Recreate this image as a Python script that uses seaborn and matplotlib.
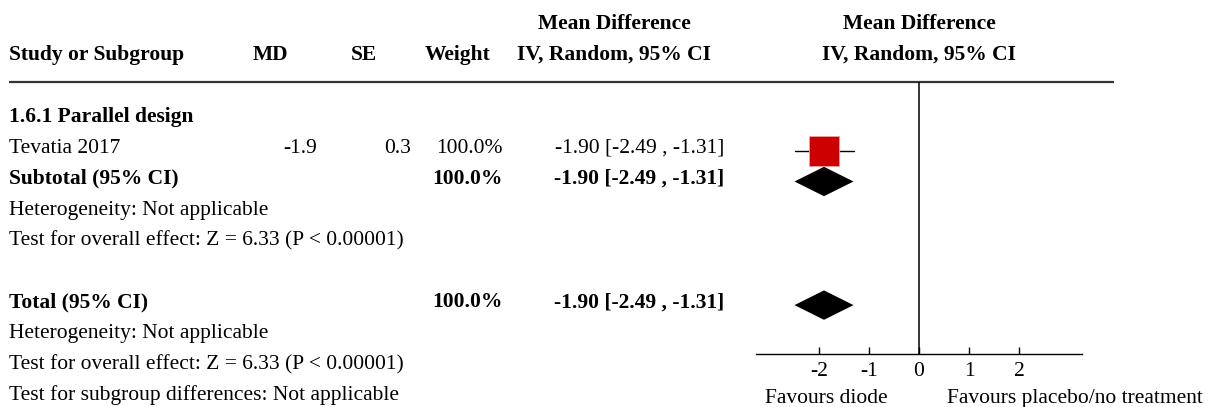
import matplotlib
matplotlib.use("Agg")
import matplotlib.pyplot as plt
import seaborn as sns
import pandas as pd

# ---- data ----
studies = ["Tevatia 2017"]
md = [-1.9]
se = [0.3]
weights = [100.0]
ci_low = [-2.49]
ci_high = [-1.31]

subtotal_md = -1.90
subtotal_low = -2.49
subtotal_high = -1.31
subtotal_weight = 100.0

total_md = -1.90
total_low = -2.49
total_high = -1.31
total_weight = 100.0

subgroup_title = "1.6.1 Parallel design"
heterogeneity_text = "Heterogeneity: Not applicable"
overall_text = "Test for overall effect: Z = 6.33 (P < 0.00001)"
subgroup_diff_text = "Test for subgroup differences: Not applicable"
x_ticks = [-2, -1, 0, 1, 2]
left_label = "Favours diode"
right_label = "Favours placebo/no treatment"

df = pd.DataFrame({"study": studies, "md": md, "se": se, "weight": weights,
                   "lo": ci_low, "hi": ci_high})

# ---- layout (pixels) ----
W, H = 1217, 407
sns.set_theme(style="white")
plt.rcParams["font.family"] = ["Liberation Serif", "DejaVu Serif"]
plt.rcParams["axes.unicode_minus"] = False
FS = 15.5

fig = plt.figure(figsize=(W / 100, H / 100), dpi=100)
tab = fig.add_axes([0, 0, 1, 1])
tab.set_xlim(0, W)
tab.set_ylim(H, 0)
tab.axis("off")

row0, step = 122.0, 30.9
def row(i):
    return row0 + i * step

X_STUDY = 9
X_MD = 317
X_SE = 411
X_W = 503
X_CI = 724
X_HDR_CI = 614
X_HDR_PLOT = 919

def put(x, y, s, ha="left", bold=False):
    tab.text(x, y, s, ha=ha, va="baseline", fontsize=FS,
             fontweight="bold" if bold else "normal", color="black")

# header
put(X_HDR_CI, 29.3, "Mean Difference", ha="center", bold=True)
put(X_HDR_PLOT, 29.3, "Mean Difference", ha="center", bold=True)
put(X_STUDY, 60, "Study or Subgroup", bold=True)
put(270.5, 60, "MD", ha="center", bold=True)
put(364, 60, "SE", ha="center", bold=True)
put(458, 60, "Weight", ha="center", bold=True)
put(X_HDR_CI, 60, "IV, Random, 95% CI", ha="center", bold=True)
put(X_HDR_PLOT, 60, "IV, Random, 95% CI", ha="center", bold=True)
tab.plot([9, 1114], [82, 82], color="#333333", lw=1.6, solid_capstyle="butt")

def ci_str(m, lo, hi):
    return f"{m:.2f} [{lo:.2f} , {hi:.2f}]"

# subgroup block
put(X_STUDY, row(0), subgroup_title, bold=True)
study_rows = []
for i, r in df.iterrows():
    y = row(1 + i)
    study_rows.append(y)
    put(X_STUDY, y, r["study"])
    put(X_MD, y, f"{r['md']:g}", ha="right")
    put(X_SE, y, f"{r['se']:g}", ha="right")
    put(X_W, y, f"{r['weight']:.1f}%", ha="right")
    put(X_CI, y, ci_str(r["md"], r["lo"], r["hi"]), ha="right")
y_sub = row(1 + len(df))
put(X_STUDY, y_sub, "Subtotal (95% CI)", bold=True)
put(X_W, y_sub, f"{subtotal_weight:.1f}%", ha="right", bold=True)
put(X_CI, y_sub, ci_str(subtotal_md, subtotal_low, subtotal_high), ha="right", bold=True)
put(X_STUDY, row(2 + len(df)), heterogeneity_text)
put(X_STUDY, row(3 + len(df)), overall_text)

# total block
y_tot = row(5 + len(df))
put(X_STUDY, y_tot, "Total (95% CI)", bold=True)
put(X_W, y_tot, f"{total_weight:.1f}%", ha="right", bold=True)
put(X_CI, y_tot, ci_str(total_md, total_low, total_high), ha="right", bold=True)
put(X_STUDY, row(6 + len(df)), heterogeneity_text)
put(X_STUDY, row(7 + len(df)), overall_text)
put(X_STUDY, row(8 + len(df)), subgroup_diff_text)

# ---- forest panel ----
AX_L, AX_R = 755.7, 1082.3
XMIN, XMAX = -3.266, 3.266
AXIS_Y = 353.7
fp = fig.add_axes([AX_L / W, 0, (AX_R - AX_L) / W, 1])
fp.set_xlim(XMIN, XMAX)
fp.set_ylim(H, 0)
fp.patch.set_alpha(0)
for s in ["top", "left", "right"]:
    fp.spines[s].set_visible(False)
fp.spines["bottom"].set_position(("data", AXIS_Y))
fp.spines["bottom"].set_color("black")
fp.spines["bottom"].set_linewidth(1.0)
fp.set_yticks([])
fp.set_xticks(x_ticks)
fp.set_xticklabels([f"{t:g}" for t in x_ticks])
fp.tick_params(axis="x", direction="in", length=5, width=1.0, color="black",
               pad=6, labelsize=FS, labelcolor="black", bottom=True)

# line of no effect
fp.plot([0, 0], [82, AXIS_Y], color="black", lw=1.1, solid_capstyle="butt")

mark_off = 2.3
# study CIs and weighted squares
for y, (_, r) in zip(study_rows, df.iterrows()):
    fp.plot([r["lo"], r["hi"]], [y - mark_off] * 2, color="black", lw=1.0)
plot_df = df.assign(y=[y - mark_off for y in study_rows])
sns.scatterplot(data=plot_df, x="md", y="y", size="weight", sizes=(437, 437),
                marker="s", color="#CC0000", edgecolor="#f0a0a0", linewidth=0.6,
                legend=False, ax=fp, zorder=3)
fp.set_xlabel("")
fp.set_ylabel("")

def diamond(m, lo, hi, yc, h=14.7):
    fp.fill([lo, m, hi, m], [yc, yc - h, yc, yc + h], color="black", lw=0)

diamond(subtotal_md, subtotal_low, subtotal_high, y_sub - mark_off)
diamond(total_md, total_low, total_high, y_tot - mark_off)

# favours labels
put(826, 402.7, left_label, ha="center")
put(1075, 402.7, right_label, ha="center")

fig.savefig("out.png", dpi=100)
